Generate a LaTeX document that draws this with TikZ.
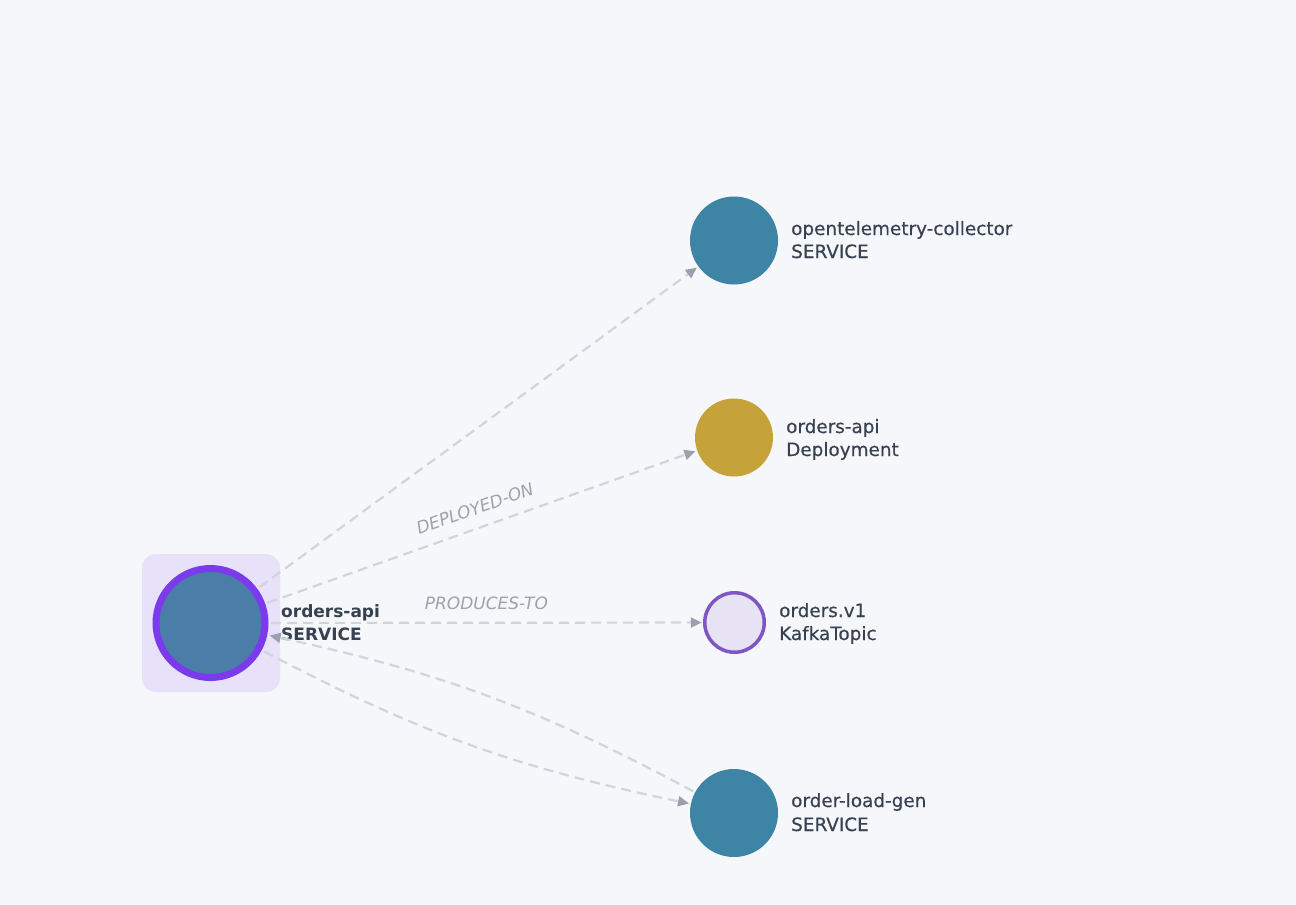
\documentclass[tikz,border=0pt]{standalone}
\usepackage{fontspec}
\setmainfont{DejaVu Sans}[ItalicFont={DejaVu Sans Oblique},BoldFont={DejaVu Sans Bold}]
\newfontfamily\medfont{DejaVu Sans}[FakeBold=0.35]
\usetikzlibrary{arrows.meta}
\definecolor{bgc}{HTML}{F5F7FA}
\definecolor{hlc}{HTML}{E7E1FA}
\definecolor{apifill}{HTML}{4A7EA9}
\definecolor{ringc}{HTML}{7C3AED}
\definecolor{tealc}{HTML}{3D84A5}
\definecolor{goldc}{HTML}{C5A23A}
\definecolor{topicfill}{HTML}{E7E2F4}
\definecolor{topicring}{HTML}{7E57C2}
\definecolor{textc}{HTML}{374151}
\definecolor{edgec}{HTML}{D1D5DB}
\definecolor{tipc}{HTML}{9CA0AE}
\definecolor{elabc}{HTML}{9CA3AF}
\begin{document}
\begin{tikzpicture}[x=1pt,y=-1pt,
  hlbox/.style={fill=hlc,rounded corners=14pt,minimum size=138pt,inner sep=0pt},
  mainnode/.style={circle,fill=apifill,draw=ringc,line width=7pt,minimum size=109pt,inner sep=0pt,outer sep=6pt},
  svcnode/.style={circle,fill=tealc,minimum size=88pt,inner sep=0pt,outer sep=2pt},
  depnode/.style={circle,fill=goldc,minimum size=78pt,inner sep=0pt,outer sep=2pt},
  topicnode/.style={circle,fill=topicfill,draw=topicring,line width=3.5pt,minimum size=59.5pt,inner sep=0pt,outer sep=3pt},
  lbl/.style={anchor=base west,inner sep=0pt,text=textc,font=\medfont\fontsize{18.4}{21}\selectfont},
  lblb/.style={anchor=base west,inner sep=0pt,text=textc,font=\fontsize{17}{21}\selectfont\bfseries},
  edge/.style={draw=edgec,line width=2.2pt,dash pattern=on 10pt off 6pt,
    -{Triangle[length=11pt,width=10pt,color=tipc]}},
  elabel/.style={inner sep=0pt,text=elabc,font=\fontsize{17}{19}\selectfont\itshape}
]
\fill[bgc] (0,0) rectangle (1296,905);
\useasboundingbox (0,0) rectangle (1296,905);

\node[hlbox] (hl) at (211,623) {};
\node[mainnode] (api) at (210.5,623) {};
\node[svcnode] (otel) at (734,240.5) {};
\node[depnode] (deploy) at (734,437.5) {};
\node[topicnode] (topic) at (734.5,622.5) {};
\node[svcnode] (gen) at (734,813) {};

\node[lblb] (apiname) at (281,617) {orders-api};
\node[lblb] (apitype) at (281,640) {SERVICE};
\node[lbl] (otelname) at (791,235) {opentelemetry-collector};
\node[lbl] (oteltype) at (791,258) {SERVICE};
\node[lbl] (depname) at (786,433) {orders-api};
\node[lbl] (deptype) at (786,456) {Deployment};
\node[lbl] (topicname) at (779,617) {orders.v1};
\node[lbl] (topictype) at (779,640) {KafkaTopic};
\node[lbl] (genname) at (791,807) {order-load-gen};
\node[lbl] (gentype) at (791,831) {SERVICE};

\draw[edge] (api) -- (otel);
\draw[edge] (api) -- node[elabel,sloped,above=12pt] (deplabel) {DEPLOYED-ON} (deploy);
\draw[edge] (api) -- node[elabel,above=12pt] (prodlabel) {PRODUCES-TO} (topic);
\draw[edge] (gen) to[bend right=8] (api);
\draw[edge] (api) to[bend right=8] (gen);
\end{tikzpicture}
\end{document}
